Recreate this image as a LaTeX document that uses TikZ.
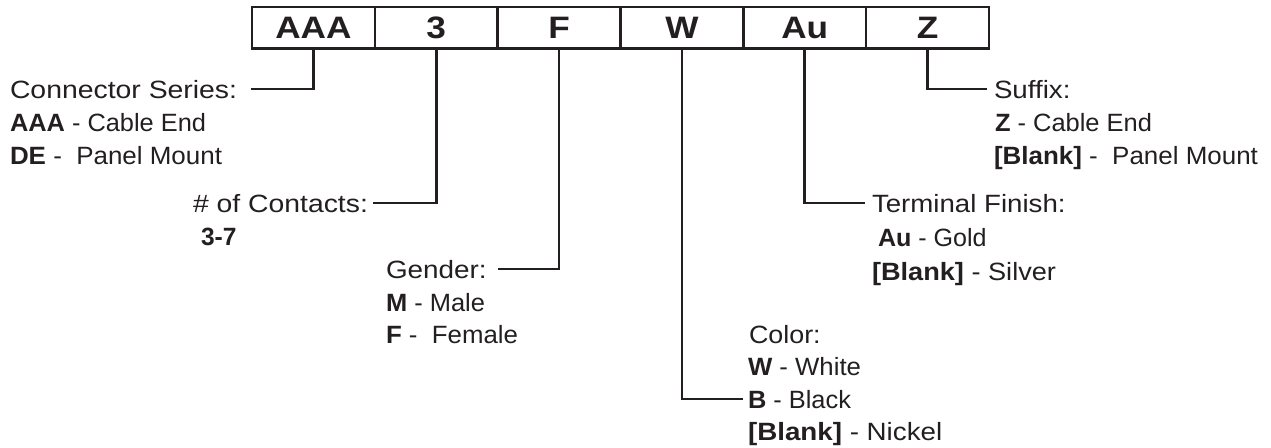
\documentclass[tikz,border=0pt]{standalone}
\usepackage{fontspec}
\usepackage{graphicx}
\setmainfont{Liberation Sans}
\definecolor{ink}{HTML}{231F20}
\begin{document}
\begin{tikzpicture}[x=1pt,y=-1pt,
  lbl/.style={anchor=base west, inner sep=0pt, outer sep=0pt, xscale=#1,
    font=\fontsize{25}{30}\selectfont, text=ink, text height=18pt, text depth=0pt},
  lbl/.default=1.12,
  cell/.style={draw=ink, line width=2.6pt, minimum width=122.83pt, minimum height=41.5pt,
    inner sep=0pt, outer sep=0pt, anchor=north west, text height=22.2pt, text depth=0pt,
    font=\fontsize{31}{36}\bfseries\selectfont, text=ink},
  wire/.style={draw=ink, line width=2.6pt}]
\useasboundingbox (0,0) rectangle (1271,447);
% code boxes
\node[cell] (c1) at (252,7) {\scalebox{1.135}[1]{AAA}};
\node[cell] (c2) at (c1.north east) {\scalebox{1.135}[1]{3}};
\node[cell] (c3) at (c2.north east) {\scalebox{1.135}[1]{F}};
\node[cell] (c4) at (c3.north east) {\scalebox{1.135}[1]{W}};
\node[cell] (c5) at (c4.north east) {\scalebox{1.135}[1]{Au}};
\node[cell] (c6) at (c5.north east) {\scalebox{1.135}[1]{Z}};
% labels
\node[lbl=1.135] (l1) at (10,98) {Connector Series:};
\node[lbl=1.015] (l1a) at (10,131.5) {\textbf{AAA} - Cable End};
\node[lbl=1.038] (l1b) at (10,164.5) {\textbf{DE} -\ \ Panel Mount};
\node[lbl=1.134] (l2) at (193,212) {\# of Contacts:};
\node[lbl=0.98] (l2a) at (201,245) {\textbf{3-7}};
\node[lbl=1.115] (l3) at (386,278) {Gender:};
\node[lbl=1.018] (l3a) at (386,311) {\textbf{M} - Male};
\node[lbl=1.033] (l3b) at (386,343.5) {\textbf{F} -\ \ Female};
\node[lbl=1.075] (l4) at (749,343) {Color:};
\node[lbl=1.03] (l4a) at (748,375) {\textbf{W} - White};
\node[lbl=1.016] (l4b) at (748,408) {\textbf{B} - Black};
\node[lbl=1.11] (l4c) at (748,440) {\textbf{[Blank]} - Nickel};
\node[lbl=1.106] (l5) at (872,212) {Terminal Finish:};
\node[lbl=1.003] (l5a) at (878,246.5) {\textbf{Au} - Gold};
\node[lbl=1.086] (l5b) at (872,280) {\textbf{[Blank]} - Silver};
\node[lbl=1.108] (l6) at (994,98) {Suffix:};
\node[lbl=1.018] (l6a) at (995,131.5) {\textbf{Z} - Cable End};
\node[lbl=1.038] (l6b) at (994,164.5) {\textbf{[Blank]} -\ \ Panel Mount};
% connectors
\draw[wire] (c1.south) |- ([xshift=14pt]l1.east);
\draw[wire] (c2.south) |- ([xshift=5pt]l2.east);
\draw[wire] (c3.south) |- ([xshift=11pt]l3.east);
\draw[wire] (c4.south) |- ([xshift=-5pt]l4b.west);
\draw[wire] (c5.south) |- ([xshift=-7pt]l5.west);
\draw[wire] (c6.south) |- ([xshift=-7pt]l6.west);
\end{tikzpicture}
\end{document}
